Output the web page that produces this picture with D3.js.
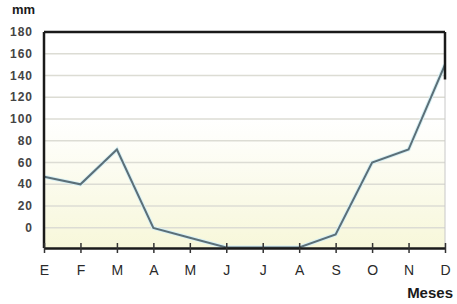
<html>
<body style="margin:0;background:#fff">
<svg id="plot"></svg>
<script src="https://cdn.jsdelivr.net/npm/d3@7/dist/d3.min.js"></script>
<script>
var months = ["E","F","M","A","M","J","J","A","S","O","N","D"]
var rain = [47, 40, 72, 0, -9, -18, -18, -18, -6, 60, 72, 150]
var yTicks = [0, 20, 40, 60, 80, 100, 120, 140, 160, 180]

var screen = {width:457, height:304}
var margins = {top:32, bottom:56, left:44, right:12}
var graph = {
    width:screen.width-margins.left-margins.right,
    height:screen.height-margins.top-margins.bottom
}

var svg = d3.select("#plot")
    .attr("width",screen.width)
    .attr("height",screen.height)
    .style("font-family","Liberation Sans, Arial, sans-serif")

var defs = svg.append("defs")
var grad = defs.append("linearGradient")
    .attr("id","bg")
    .attr("x1",0).attr("y1",0).attr("x2",0).attr("y2",1)
grad.append("stop").attr("offset","0%").attr("stop-color","#ffffff")
grad.append("stop").attr("offset","40%").attr("stop-color","#ffffff")
grad.append("stop").attr("offset","100%").attr("stop-color","#f7f7da")
defs.append("clipPath").attr("id","clip")
    .append("rect").attr("width",graph.width).attr("height",graph.height)

var g = svg.append("g")
    .attr("transform","translate("+margins.left+","+margins.top+")")

var xScale = d3.scalePoint()
    .domain(d3.range(months.length))
    .range([0,graph.width])

var yScale = d3.scaleLinear()
    .domain([-18.5,180])
    .range([graph.height,0])

g.append("rect")
    .attr("width",graph.width)
    .attr("height",graph.height)
    .attr("fill","url(#bg)")

//grid
g.selectAll(".grid")
    .data(yTicks.filter(function(d){return d<180}))
    .enter()
    .append("line")
    .attr("x1",0).attr("x2",graph.width)
    .attr("y1",function(d){return yScale(d)})
    .attr("y2",function(d){return yScale(d)})
    .attr("stroke","#dcdcd4")
    .attr("stroke-width",1.5)

//y labels
svg.selectAll(".ylab")
    .data(yTicks)
    .enter()
    .append("text")
    .attr("x",33)
    .attr("y",function(d){return margins.top+yScale(d)+4})
    .attr("text-anchor","end")
    .attr("font-size",12)
    .attr("font-weight","bold")
    .attr("fill","#444")
    .attr("letter-spacing",1)
    .text(function(d){return d})

svg.append("text")
    .attr("x",12).attr("y",14)
    .attr("font-size",13)
    .attr("font-weight","bold")
    .attr("fill","#1a1a1a")
    .text("mm")

//line
var line = d3.line()
    .x(function(d,i){return xScale(i)})
    .y(function(d){return yScale(d)})

var lg = g.append("g").attr("clip-path","url(#clip)")
lg.append("path")
    .datum(rain)
    .attr("d",line)
    .attr("fill","none")
    .attr("stroke","#d8f0f4")
    .attr("stroke-width",4)
lg.append("path")
    .datum(rain)
    .attr("d",line)
    .attr("fill","none")
    .attr("stroke","#5b6f78")
    .attr("stroke-width",2)

//frame
g.append("line").attr("x1",0).attr("x2",graph.width).attr("y1",0).attr("y2",0)
    .attr("stroke","#1a1a1a").attr("stroke-width",2.5)
g.append("line").attr("x1",0).attr("x2",0).attr("y1",0).attr("y2",graph.height)
    .attr("stroke","#1a1a1a").attr("stroke-width",2.5)
g.append("line").attr("x1",graph.width).attr("x2",graph.width).attr("y1",graph.height*0.22).attr("y2",graph.height)
    .attr("stroke","#c8c8c8").attr("stroke-width",1)
g.append("line").attr("x1",graph.width).attr("x2",graph.width).attr("y1",0).attr("y2",graph.height*0.22)
    .attr("stroke","#1a1a1a").attr("stroke-width",2.5)

//x axis
var xAxis = d3.axisBottom(xScale)
    .tickSize(10)
    .tickSizeOuter(0)
    .tickFormat(function(i){return months[i]})

var ax = g.append("g")
    .attr("transform","translate(0,"+graph.height+")")
    .call(xAxis)
ax.select(".domain").attr("stroke","#1a1a1a").attr("stroke-width",2.5)
ax.selectAll(".tick line")
    .attr("y1",-5).attr("y2",5)
    .attr("stroke","#333").attr("stroke-width",1.5)
ax.selectAll(".tick text")
    .attr("y",17)
    .attr("font-size",14)
    .attr("fill","#2a2a2a")
    .attr("font-family","Liberation Sans, Arial, sans-serif")

svg.append("text")
    .attr("x",453).attr("y",298)
    .attr("text-anchor","end")
    .attr("font-size",15)
    .attr("font-weight","bold")
    .attr("fill","#1a1a1a")
    .attr("font-family","Liberation Sans Narrow, Arial Narrow, sans-serif")
    .text("Meses")
</script>
</body>
</html>
